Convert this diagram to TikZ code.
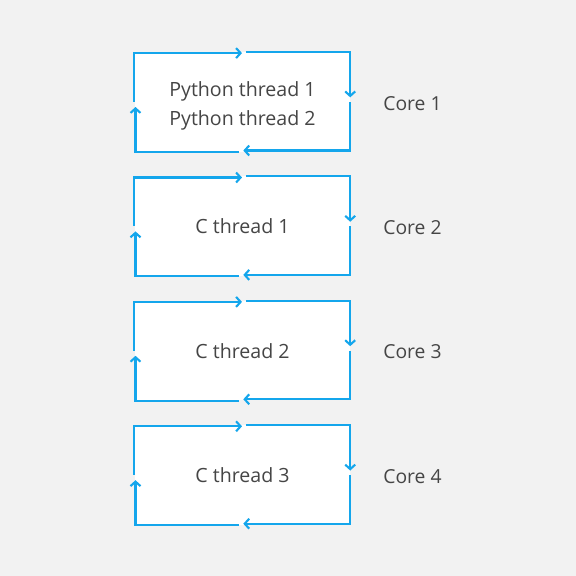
\documentclass[tikz,border=0pt]{standalone}
\usepackage{fontspec}
\setmainfont{Open Sans}
\usepackage{tikz}
\usetikzlibrary{arrows.meta, positioning}
\definecolor{loopblue}{HTML}{14A6EC}
\definecolor{labelgray}{HTML}{454545}
\definecolor{pagegray}{HTML}{F2F2F2}
\tikzset{
		thread box/.style={rectangle, fill=white, inner sep=0pt, minimum width=215pt, minimum height=99.5pt,
			align=center, text=labelgray, text depth=0pt, font=\fontsize{19.6}{29}\selectfont},
		core label/.style={inner sep=0pt, yshift=-1.5pt, text=labelgray, font=\fontsize{19.3}{22}\selectfont},
		loop part/.style={draw=loopblue, line width=2.1pt, ->}
	}

\begin{document}
\begin{tikzpicture}[x=1pt,y=-1pt,>={Straight Barb[length=4.5pt,width=10pt]},node distance=24.5pt]
				\fill[pagegray] (0,0) rectangle (576,576);
				\useasboundingbox (0,0) rectangle (576,576);

				\node[thread box, text height=48pt] (t1) at (242.5,101.75) {Python thread 1\\Python thread 2};
				\node[thread box] (t2) [below = of t1]    {C thread 1};
				\node[thread box] (t3) [below = of t2]    {C thread 2};
				\node[thread box] (t4) [below = of t3]    {C thread 3};

				\node[core label] (c1) [right = 33pt of t1] {Core 1};
				\node[core label] (c2) [right = 33pt of t2] {Core 2};
				\node[core label] (c3) [right = 33pt of t3] {Core 3};
				\node[core label] (c4) [right = 33pt of t4] {Core 4};

				% clockwise loop round each box
				\foreach \t in {t1,t2,t3,t4} {
					\draw[loop part] ([xshift=-0.7pt]\t.west) |- ([xshift=-0.5pt,yshift=-1.3pt]\t.north);
					\draw[loop part] ([xshift=3.5pt]\t.north) -| ([yshift=4.4pt]\t.east);
					\draw[loop part] ([yshift=-0.25pt]\t.east) |- ([xshift=0.8pt,yshift=1.2pt]\t.south);
					\draw[loop part] ([xshift=-3.8pt,yshift=-0.2pt]\t.south) -| ([xshift=0.7pt,yshift=-5.25pt]\t.west);
				}
			\end{tikzpicture}
\end{document}
